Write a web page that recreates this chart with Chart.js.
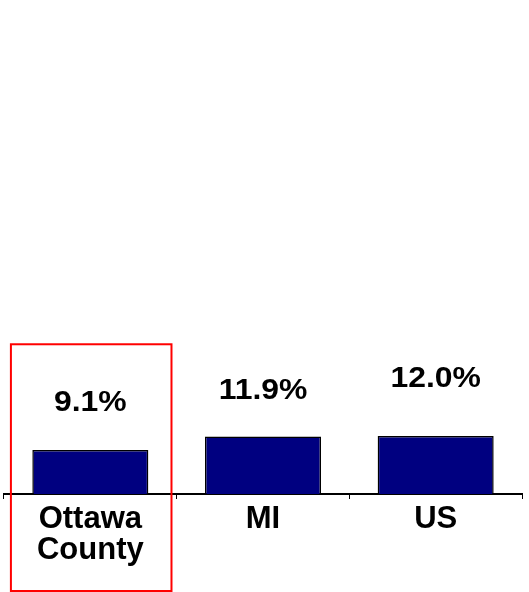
<!DOCTYPE html>
<html>
<head>
<meta charset="utf-8">
<script src="https://cdn.jsdelivr.net/npm/chart.js@4.4.0/dist/chart.umd.min.js"></script>
<style>
  html, body { margin: 0; padding: 0; background: #fff; }
  #wrap { width: 529px; height: 592px; }
</style>
</head>
<body>
<div id="wrap"><canvas id="canvas" width="529" height="592"></canvas></div>
<script>
// data
const areas = [["Ottawa", "County"], "MI", "US"];
const rates = [9.1, 11.9, 12.0];
const rateLabels = ["9.1%", "11.9%", "12.0%"];

// value labels sit a little above each bar (px above bar top)
const labelLift = [47, 46, 57];

const valueLabels = {
  id: 'valueLabels',
  afterDatasetsDraw(chart) {
    const ctx = chart.ctx;
    const meta = chart.getDatasetMeta(0);
    meta.data.forEach((bar, i) => {
      ctx.save();
      ctx.translate(bar.x, bar.y - labelLift[i]);
      ctx.scale(1.1, 1);   // the original type is a bit wider
      ctx.fillStyle = '#000';
      ctx.font = 'bold 29px "Liberation Sans", Arial, sans-serif';
      ctx.textAlign = 'center';
      ctx.textBaseline = 'middle';
      ctx.fillText(rateLabels[i], 0, 0);
      ctx.restore();
    });
  }
};

// red box around the first category
const highlight = {
  id: 'highlight',
  afterDraw(chart) {
    const x = chart.scales.x;
    const y = chart.scales.y;
    const step = x.width / areas.length;
    const cx = x.getPixelForValue(0);
    const top = y.getPixelForValue(31);
    const ctx = chart.ctx;
    ctx.save();
    ctx.strokeStyle = '#ff0000';
    ctx.lineWidth = 2;
    ctx.strokeRect(cx - step * 0.46, top, step * 0.93, chart.height - 1 - top);
    ctx.restore();
  }
};

Chart.defaults.font.family = '"Liberation Sans", Arial, sans-serif';
Chart.defaults.color = '#000';

let ctx = document.getElementById('canvas').getContext('2d');
new Chart(ctx, {
  type: 'bar',
  data: {
    labels: areas,
    datasets: [{
      data: rates,
      backgroundColor: '#000080',
      borderColor: '#000',
      borderWidth: 1.5,
      borderSkipped: 'bottom',
      barPercentage: 0.672,
      categoryPercentage: 1
    }]
  },
  options: {
    responsive: false,
    animation: false,
    layout: { padding: { top: 11, left: 4, right: 7, bottom: 0 } },
    plugins: {
      legend: { display: false },
      tooltip: { enabled: false }
    },
    scales: {
      x: {
        offset: true,
        grid: {
          offset: true,
          drawOnChartArea: false,
          drawTicks: true,
          tickLength: 5,
          color: '#000',
          lineWidth: 1
        },
        border: { color: '#000', width: 2 },
        ticks: {
          font: { size: 31, weight: 'bold', lineHeight: 1.03 },
          padding: 4,
          maxRotation: 0,
          autoSkip: false
        },
        afterFit(scale) { scale.height = 98; }
      },
      y: {
        display: false,
        min: 0,
        max: 100
      }
    }
  },
  plugins: [valueLabels, highlight]
});
</script>
</body>
</html>
